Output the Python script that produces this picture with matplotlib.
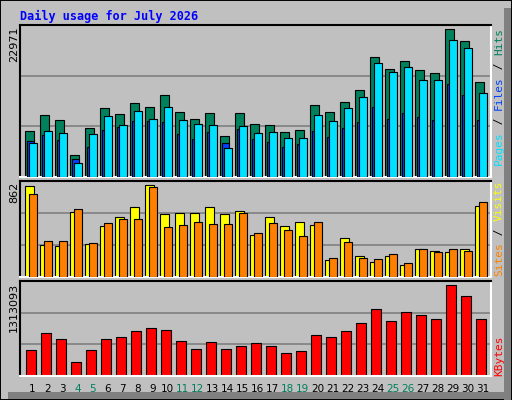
import matplotlib
matplotlib.use("Agg")
import matplotlib.pyplot as plt
from matplotlib.patches import Rectangle
import numpy as np

days = list(range(1, 32))
hits = [7190,9690,8909,3439,7659,10785,9847,11566,10941,12660,10160,9065,10003,6408,10003,8284,
        8128,7034,7346,11254,10160,11723,13442,18600,16724,17975,16568,16099,22971,21101,14692]
files = [5627,6565,5783,2813,4689,7346,7815,8753,8753,8597,6721,5939,7034,5314,7502,5939,
         5471,4689,5158,7190,6252,7659,8597,10941,9065,10003,9378,8909,14380,12660,8909]
pages = [5314,7190,6877,2188,6721,9534,8128,10316,9065,10941,8909,8284,8128,4533,7971,6877,
         7034,6096,6096,9691,8753,10785,12348,17662,16255,17037,15005,15005,21257,20006,12973]
visits = [847,302,292,610,311,479,563,657,862,591,601,601,657,591,619,395,563,479,517,488,
          162,367,199,143,199,115,264,246,236,264,666]
sites = [778,339,339,638,320,507,545,545,843,470,488,516,498,498,601,414,507,442,386,516,
         180,330,180,171,218,134,264,236,264,246,703]
kbytes = [378247,622741,536449,205663,378247,536449,565213,651505,694651,665887,507685,392629,
          493303,392629,435775,478921,435775,335101,363865,593977,565213,651505,766561,967909,
          795325,924763,881617,824089,1313093,1154875,824089]
weekend = [4, 5, 11, 12, 18, 19, 25, 26]

C_HITS, C_FILES, C_PAGES = "#00805c", "#0040ff", "#00e0ff"
C_SITES, C_VISITS, C_KB = "#ff8000", "#ffff00", "#ff0000"
GRAY = "#c0c0c0"

W, H = 512, 400
fig = plt.figure(figsize=(W/100, H/100), dpi=100, facecolor=GRAY)
# outer bevel
fig.patches.append(Rectangle((0, 0), 1, 1, transform=fig.transFigure, fc=GRAY, ec="black", lw=1.4, zorder=-10))
fig.patches.append(Rectangle((504/W, 0), 7/W, 1 - 8/H, transform=fig.transFigure, fc="#808080", ec="none", zorder=-9))
fig.patches.append(Rectangle((8/W, 1/H), 1 - 9/W, 7/H, transform=fig.transFigure, fc="#808080", ec="none", zorder=-9))

x0, x1 = 20, 491
def mkax(ytop, ybot):
    return fig.add_axes([x0/W, 1 - ybot/H, (x1-x0)/W, (ybot-ytop)/H])

x = np.array(days, dtype=float)
lw = 0.8
panels = [mkax(25, 177), mkax(181, 277), mkax(281, 376)]
ylims = [151*156.3, 96*9.34, 95*14382]
for ax, yl in zip(panels, ylims):
    ax.set_facecolor(GRAY)
    ax.set_xlim(1/6, 31.57)
    ax.set_ylim(0, yl)
    ax.set_xticks([]); ax.set_yticks([])
    for k in (1/3, 2/3):
        ax.axhline(yl*k, color="#808080", lw=1.2, zorder=0)
    ax.spines["top"].set_color("black"); ax.spines["left"].set_color("black")
    ax.spines["bottom"].set_color("white"); ax.spines["right"].set_color("white")
    for s in ax.spines.values():
        s.set_linewidth(1.5)

a0, a1, a2 = panels
a0.bar(x - 0.5, hits, width=0.6, align="edge", color=C_HITS, ec="black", lw=lw, zorder=2)
a0.bar(x - 0.5 + 2/15, files, width=0.45, align="edge", color=C_FILES, ec="black", lw=lw, zorder=3)
a0.bar(x - 0.5 + 4/15, pages, width=0.53, align="edge", color=C_PAGES, ec="black", lw=lw, zorder=4)
a1.bar(x - 0.5, visits, width=0.6, align="edge", color=C_VISITS, ec="black", lw=lw, zorder=2)
a1.bar(x - 0.5 + 4/15, sites, width=0.53, align="edge", color=C_SITES, ec="black", lw=lw, zorder=3)
a2.bar(x - 0.5 + 1/15, kbytes, width=0.7, align="edge", color=C_KB, ec="black", lw=lw, zorder=2)

mono = "DejaVu Sans Mono"
fig.text(20/W, 1 - 16/H, "Daily usage for July 2026", color="#0000ff", fontsize=8.5,
         fontweight="bold", family=mono, va="center", ha="left")
for txt, ytop in (("22971", 27), ("862", 182), ("1313093", 283)):
    fig.text(14/W, 1 - ytop/H, txt, rotation=90, fontsize=8, va="top", ha="center", family="DejaVu Sans")

def vlegend(parts, ybottom):
    cw = 6.85
    y = ybottom
    for s, c in parts:
        fig.text(499/W, 1 - y/H, s, rotation=90, fontsize=8, color=c, family=mono,
                 va="bottom", ha="center", rotation_mode="anchor" if False else "default")
        y -= cw * len(s)

vlegend([("Pages", C_PAGES), (" / ", "black"), ("Files", C_FILES), (" / ", "black"), ("Hits", C_HITS)], 165)
vlegend([("Sites", C_SITES), (" / ", "black"), ("Visits", C_VISITS)], 276)
vlegend([("KBytes", C_KB)], 376)

for d in days:
    px = 17.5 + 15*d
    fig.text(px/W, 1 - 389/H, str(d), fontsize=7.5, ha="center", va="center",
             color=C_HITS if d in weekend else "black")

fig.savefig("out.png", dpi=100, facecolor=GRAY)
